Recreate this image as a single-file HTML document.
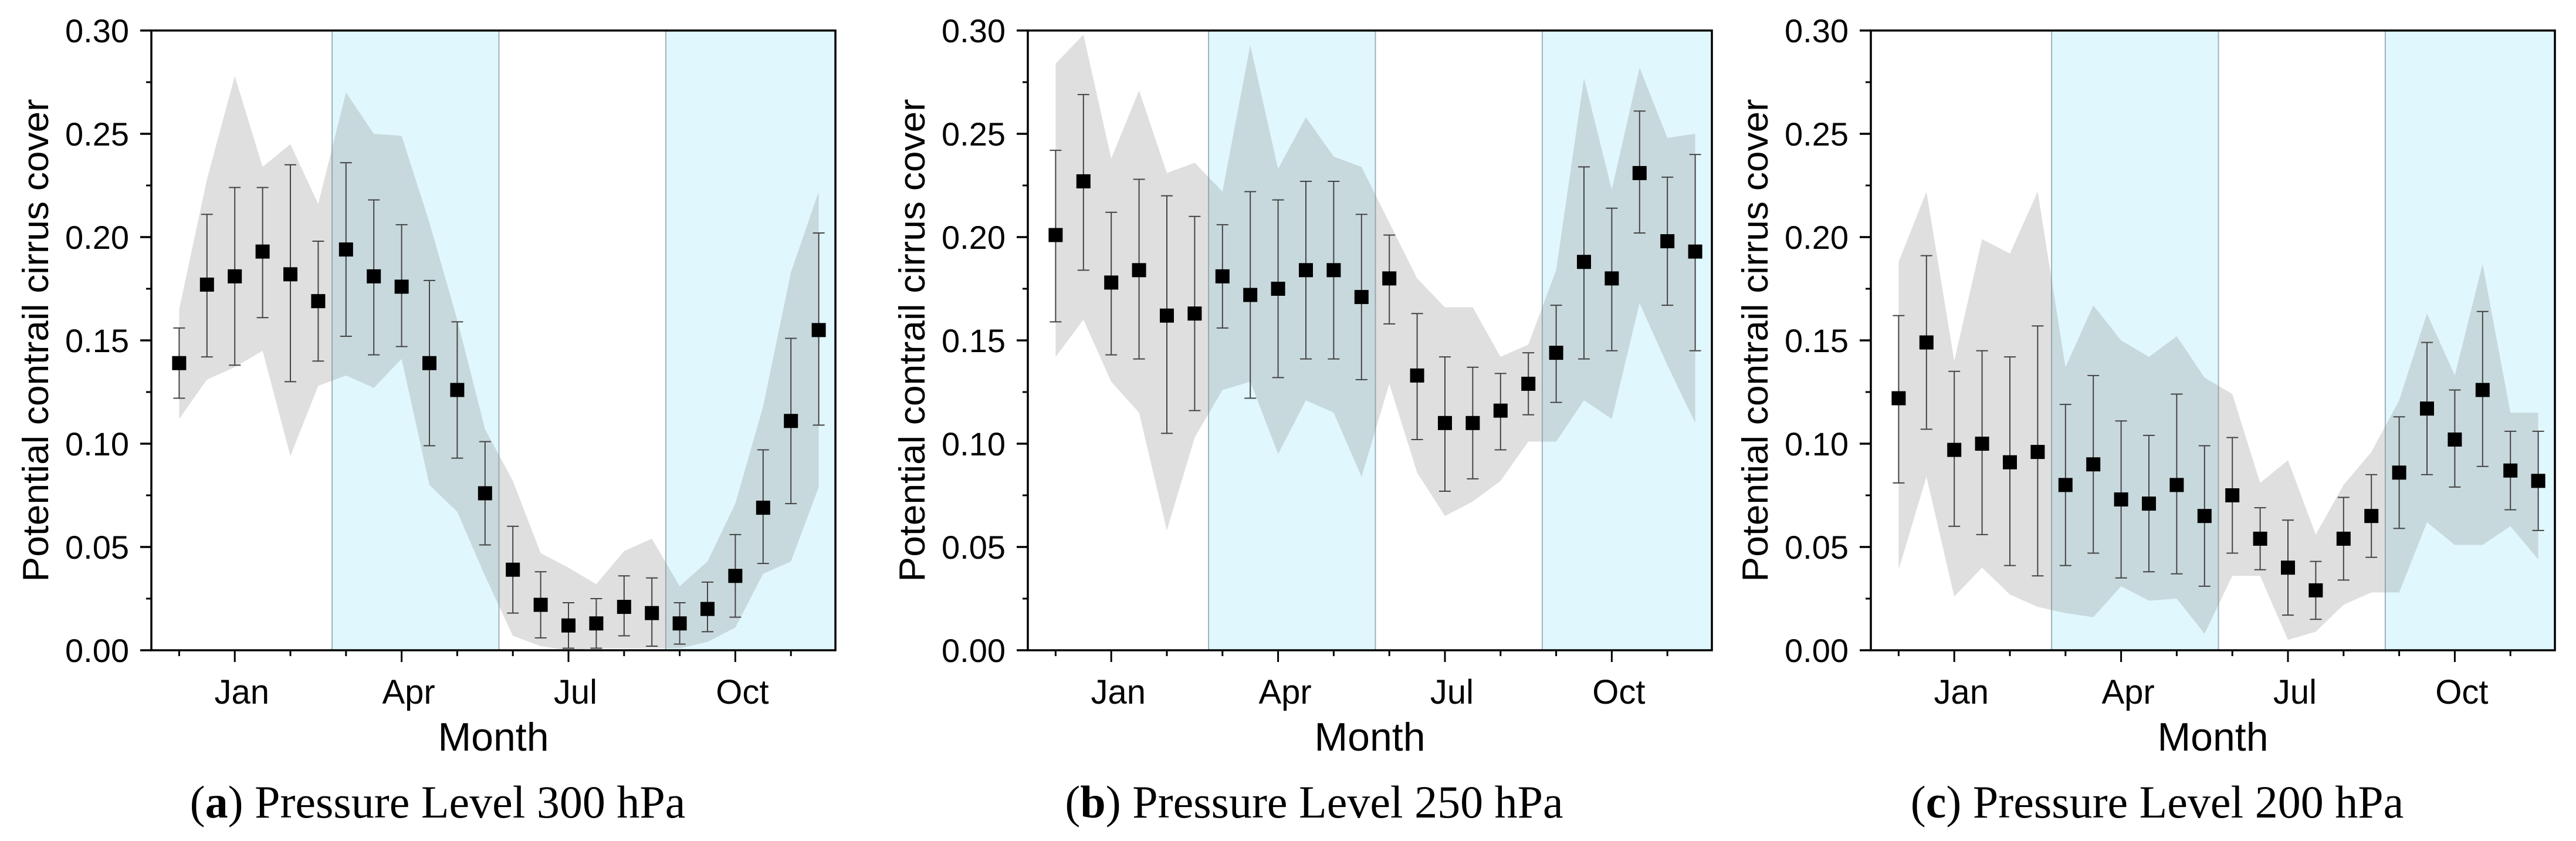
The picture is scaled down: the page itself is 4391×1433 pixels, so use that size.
<!DOCTYPE html>
<html><head><meta charset="utf-8"><style>
html,body{margin:0;padding:0;background:#fff;}
svg{display:block;}
text{font-family:"Liberation Sans",sans-serif;fill:#000;}
.cap{font-family:"Liberation Serif",serif;}
</style></head><body>
<svg id="fig" xmlns="http://www.w3.org/2000/svg" width="4391" height="1433" viewBox="0 0 4391 1433"></svg>
<script>
const monthLabels = ["Jan","Apr","Jul","Oct"];
const monthLabelIdx = [2,8,14,20];
const yTicks = [0,0.05,0.10,0.15,0.20,0.25,0.30];
const yTickLabels = ["0.00","0.05","0.10","0.15","0.20","0.25","0.30"];
const shadeStarts = [5.5,17.5];
const shadeEnds = [11.5,23.6];
const dividers = [5.5,11.5,17.5];

const titleA = "Pressure Level 300 hPa";
const meanA = [0.139,0.177,0.181,0.193,0.182,0.169,0.194,0.181,0.176,0.139,0.126,0.076,0.039,0.022,0.012,0.013,0.021,0.018,0.013,0.020,0.036,0.069,0.111,0.155];
const errLoA = [0.122,0.142,0.138,0.161,0.130,0.140,0.152,0.143,0.147,0.099,0.093,0.051,0.018,0.006,0.001,0.001,0.007,0.002,0.003,0.009,0.016,0.042,0.071,0.109];
const errHiA = [0.156,0.211,0.224,0.224,0.235,0.198,0.236,0.218,0.206,0.179,0.159,0.101,0.060,0.038,0.023,0.025,0.036,0.035,0.023,0.033,0.056,0.097,0.151,0.202];
const bandHiA = [0.165,0.228,0.278,0.234,0.245,0.216,0.270,0.250,0.249,0.207,0.160,0.107,0.082,0.047,0.040,0.032,0.048,0.054,0.031,0.043,0.071,0.118,0.183,0.222];
const bandLoA = [0.112,0.131,0.137,0.145,0.094,0.128,0.133,0.127,0.141,0.080,0.067,0.036,0.007,0.002,0.000,0.001,0.001,0.001,0.001,0.004,0.011,0.037,0.043,0.079];

const titleB = "Pressure Level 250 hPa";
const meanB = [0.201,0.227,0.178,0.184,0.162,0.163,0.181,0.172,0.175,0.184,0.184,0.171,0.180,0.133,0.110,0.110,0.116,0.129,0.144,0.188,0.180,0.231,0.198,0.193];
const errLoB = [0.159,0.184,0.143,0.141,0.105,0.116,0.156,0.122,0.132,0.141,0.141,0.131,0.158,0.102,0.077,0.083,0.097,0.114,0.120,0.141,0.145,0.202,0.167,0.145];
const errHiB = [0.242,0.269,0.212,0.228,0.220,0.210,0.206,0.222,0.218,0.227,0.227,0.211,0.201,0.163,0.142,0.137,0.134,0.144,0.167,0.234,0.214,0.261,0.229,0.240];
const bandHiB = [0.284,0.298,0.238,0.271,0.231,0.236,0.222,0.293,0.233,0.258,0.239,0.234,0.207,0.180,0.166,0.166,0.142,0.148,0.184,0.277,0.223,0.282,0.248,0.250];
const bandLoB = [0.142,0.160,0.130,0.115,0.058,0.103,0.126,0.130,0.095,0.121,0.115,0.084,0.129,0.086,0.065,0.072,0.082,0.101,0.101,0.121,0.112,0.168,0.138,0.110];

const titleC = "Pressure Level 200 hPa";
const meanC = [0.122,0.149,0.097,0.100,0.091,0.096,0.080,0.090,0.073,0.071,0.080,0.065,0.075,0.054,0.040,0.029,0.054,0.065,0.086,0.117,0.102,0.126,0.087,0.082];
const errLoC = [0.081,0.107,0.060,0.056,0.041,0.036,0.041,0.047,0.035,0.038,0.037,0.031,0.047,0.039,0.017,0.015,0.034,0.045,0.059,0.085,0.079,0.089,0.068,0.058];
const errHiC = [0.162,0.191,0.135,0.145,0.142,0.157,0.119,0.133,0.111,0.104,0.124,0.099,0.103,0.069,0.063,0.043,0.074,0.085,0.113,0.149,0.126,0.164,0.106,0.106];
const bandHiC = [0.188,0.222,0.140,0.199,0.192,0.222,0.137,0.167,0.150,0.142,0.152,0.132,0.124,0.081,0.092,0.056,0.080,0.096,0.121,0.163,0.133,0.187,0.115,0.115];
const bandLoC = [0.039,0.084,0.026,0.040,0.027,0.021,0.018,0.016,0.031,0.024,0.025,0.008,0.036,0.036,0.005,0.009,0.022,0.028,0.028,0.062,0.051,0.051,0.060,0.044];

const NS = "http://www.w3.org/2000/svg";
const svg = document.getElementById('fig');
function mk(tag, attrs, parent){ const e=document.createElementNS(NS,tag); for(const k in attrs) e.setAttribute(k,attrs[k]); (parent||svg).appendChild(e); return e; }

const TOP=52, BOT=1108, H=BOT-TOP, HM=47.4;
function drawPanel(key, left, letter, title, mean, lo, hi, bLo, bHi){
  const g = mk('g',{});
  
  
  const x0 = left + HM;
  const X = i => x0 + i*HM;
  const Y = v => BOT - v/0.30*H;
  const right = X(23.6);
  for(let s=0;s<shadeStarts.length;s++){
    const r = mk('rect',{x:X(shadeStarts[s]),y:TOP,width:Math.min(X(shadeEnds[s]),right)-X(shadeStarts[s]),height:H,fill:'#e0f7fd'},g);
    
    
  }
  dividers.forEach(d=>{
    const l = mk('line',{x1:X(d),x2:X(d),y1:TOP,y2:BOT,stroke:'#9fb2b8','stroke-width':2},g);
    
    
  });
  let pts=[];
  for(let i=0;i<bHi.length;i++) pts.push(X(i)+','+Y(bHi[i]));
  for(let i=bLo.length-1;i>=0;i--) pts.push(X(i)+','+Y(bLo[i]));
  const band = mk('polygon',{points:pts.join(' '),fill:'#888888','fill-opacity':0.27},g);
  
  
  for(let i=0;i<mean.length;i++){
    const eb = mk('path',{d:`M${X(i)},${Y(lo[i])}V${Y(hi[i])}M${X(i)-10},${Y(lo[i])}h20M${X(i)-10},${Y(hi[i])}h20`,stroke:'#444','stroke-width':2,fill:'none'},g);
    
    
    const m = mk('rect',{x:X(i)-12,y:Y(mean[i])-12,width:24,height:24,fill:'#000'},g);
    
    
  }
  const fr = mk('rect',{x:left,y:TOP,width:right-left,height:H,fill:'none',stroke:'#000','stroke-width':3.5},g);
  
  
  for(let k=0;k<yTicks.length;k++){
    const yy=Y(yTicks[k]);
    const t=mk('line',{x1:left-19,x2:left,y1:yy,y2:yy,stroke:'#000','stroke-width':3.5},g);
    
    
    if(k<yTicks.length-1){
      const ym=Y((yTicks[k]+yTicks[k+1])/2);
      const tm=mk('line',{x1:left-9,x2:left,y1:ym,y2:ym,stroke:'#000','stroke-width':3},g);
      
      
    }
    const lb=mk('text',{x:left-38,y:yy+20,'font-size':56,'text-anchor':'end'},g);
    lb.textContent=yTickLabels[k];
    
    
  }
  for(let i=0;i<=22;i+=2){
    const major = monthLabelIdx.indexOf(i)>=0;
    const t=mk('line',{x1:X(i),x2:X(i),y1:BOT,y2:BOT+(major?20:10),stroke:'#000','stroke-width':3},g);
    
    
  }
  for(let k=0;k<monthLabels.length;k++){
    const lb=mk('text',{x:X(monthLabelIdx[k])+12,y:1199,'font-size':58,'text-anchor':'middle'},g);
    lb.textContent=monthLabels[k];
    
    
  }
  const cx=(left+right)/2;
  const xt=mk('text',{x:cx,y:1279,'font-size':68,'text-anchor':'middle'},g);
  xt.textContent='Month';
  
  
  const yt=mk('text',{x:0,y:0,'font-size':62,'text-anchor':'middle',textLength:823,lengthAdjust:'spacingAndGlyphs',transform:`translate(${left-176},${(TOP+BOT)/2}) rotate(-90)`},g);
  yt.textContent='Potential contrail cirrus cover';
  
  
  const cap=mk('text',{x:cx-95,y:1393,'font-size':78,'text-anchor':'middle','class':'cap'},g);
  
  
  const t1=mk('tspan',{},cap); t1.textContent='(';
  const t2=mk('tspan',{'font-weight':'bold'},cap); t2.textContent=letter;
  const t3=mk('tspan',{},cap); t3.textContent=') '+title;
}
drawPanel('a',258,'a',titleA,meanA,errLoA,errHiA,bandLoA,bandHiA);
drawPanel('b',1752,'b',titleB,meanB,errLoB,errHiB,bandLoB,bandHiB);
drawPanel('c',3189,'c',titleC,meanC,errLoC,errHiC,bandLoC,bandHiC);
</script>
</body></html>
